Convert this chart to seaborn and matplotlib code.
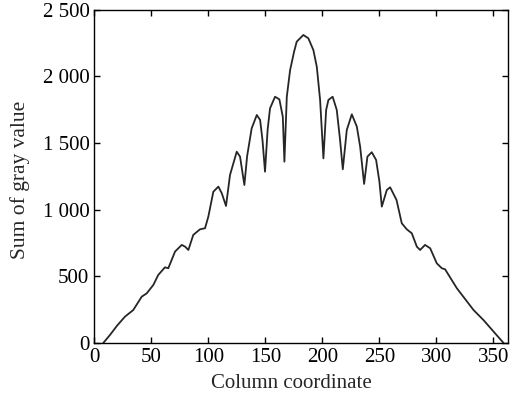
import matplotlib
matplotlib.use("Agg")
import matplotlib.pyplot as plt
import seaborn as sns
import pandas as pd
from matplotlib.ticker import FuncFormatter

column = [7.9, 13.8, 20, 26.9, 34.2, 41.6, 46, 51.8, 56.1, 62, 64.9, 70.8, 76.7, 79.6, 82.5,
          86.8, 92.7, 97.1, 100, 104.4, 108.8, 111.8, 115.5, 119, 124.9, 127.8, 131.6, 134,
          138, 142.5, 145.4, 147.5, 149.7, 152, 154.1, 158.5, 162.3, 165.3, 166.7, 168.8,
          171.7, 175.2, 177.5, 180.4, 183.3, 187.7, 192.1, 195.1, 198, 200.9, 203.3, 205.3,
          209, 212.6, 215.5, 217.9, 221.4, 225.8, 230.2, 233.1, 236.6, 239.5, 243.3, 247.1,
          250, 252.1, 256.5, 259.4, 265, 269.6, 274, 278.4, 282.8, 285.7, 290, 294.5, 300.3,
          304.7, 307.6, 317.9, 332.5, 341.2, 358.8]
gray_sum = [0, 60, 130, 197, 247, 347, 372, 435, 510, 567, 560, 685, 735, 722, 697,
            810, 852, 860, 947, 1134, 1172, 1122, 1027, 1259, 1434, 1397, 1184, 1400,
            1609, 1709, 1672, 1520, 1284, 1600, 1759, 1846, 1826, 1696, 1359, 1846,
            2046, 2184, 2259, 2284, 2309, 2284, 2196, 2071, 1822, 1384, 1747, 1822,
            1846, 1747, 1522, 1302, 1597, 1714, 1622, 1472, 1192, 1397, 1430, 1372,
            1209, 1022, 1147, 1167, 1072, 897, 852, 822, 722, 697, 735, 710, 597,
            560, 552, 410, 247, 172, 0]

x_ticks = [0, 50, 100, 150, 200, 250, 300, 350]
y_ticks = [0, 500, 1000, 1500, 2000, 2500]

df = pd.DataFrame({"Column coordinate": column, "Sum of gray value": gray_sum})

sns.set_style("ticks")
plt.rcParams["font.family"] = ["Liberation Serif", "DejaVu Serif"]

fig = plt.figure(figsize=(5.11, 3.96), dpi=100)
ax = fig.add_axes([0.1845, 0.134, 0.8102, 0.842])
sns.lineplot(data=df, x="Column coordinate", y="Sum of gray value", ax=ax,
             color="#262626", linewidth=1.3, estimator=None, sort=False)

ax.set_xlim(0, 363)
ax.set_ylim(0, 2500)
ax.set_xticks(x_ticks)
ax.set_yticks(y_ticks)
ax.yaxis.set_major_formatter(FuncFormatter(lambda v, p: f"{int(v):,}".replace(",", " ")))
ax.tick_params(direction="in", top=True, right=True, length=4, width=1, labelsize=15,
               colors="black")
ax.tick_params(axis="y", pad=3.5)
ax.tick_params(axis="x", pad=4)
for s in ax.spines.values():
    s.set_visible(True)
    s.set_color("black")
    s.set_linewidth(1)
ax.set_xlabel("Column coordinate", fontsize=15, labelpad=5)
ax.set_ylabel("Sum of gray value", fontsize=15.5, labelpad=9)
ax.xaxis.label.set_x(0.476)
ax.yaxis.label.set_y(0.49)

fig.savefig("out.png", dpi=100, facecolor="white")
